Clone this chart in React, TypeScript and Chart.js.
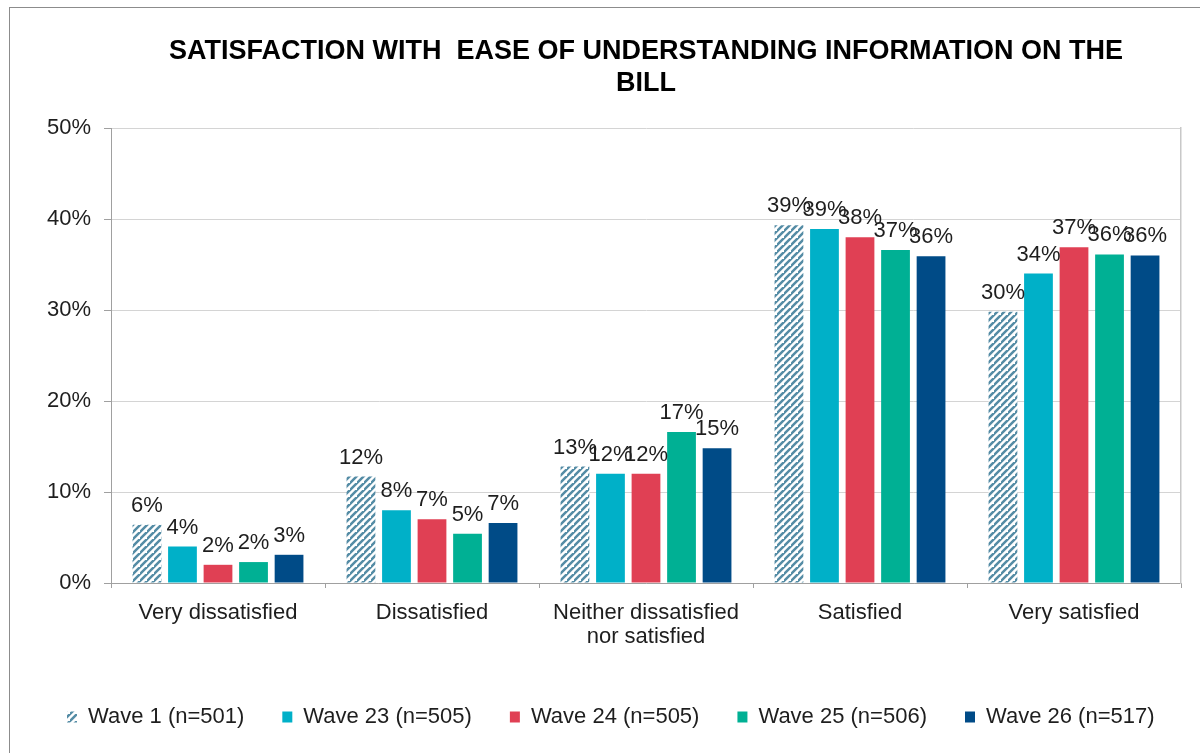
import React, { useEffect, useRef } from "react";
import { Chart, registerables } from "chart.js";

Chart.register(...registerables);

const categories: (string | string[])[] = [
  "Very dissatisfied",
  "Dissatisfied",
  ["Neither dissatisfied", "nor satisfied"],
  "Satisfied",
  "Very satisfied",
];

const wave1 = [6.4, 11.7, 12.8, 39.3, 29.8];
const wave23 = [4.0, 8.0, 12.0, 38.9, 34.0];
const wave24 = [2.0, 7.0, 12.0, 38.0, 36.9];
const wave25 = [2.3, 5.4, 16.6, 36.6, 36.1];
const wave26 = [3.1, 6.6, 14.8, 35.9, 36.0];

const seriesNames = [
  "Wave 1 (n=501)",
  "Wave 23 (n=505)",
  "Wave 24 (n=505)",
  "Wave 25 (n=506)",
  "Wave 26 (n=517)",
];

const titleLines = [
  "SATISFACTION WITH  EASE OF UNDERSTANDING INFORMATION ON THE",
  "BILL",
];

const yTicks = [0, 10, 20, 30, 40, 50];

const FONT = "'Liberation Sans', Arial, sans-serif";
const TEXT = "#1e1e1e";

function makeHatch(): CanvasPattern | string {
  const c = document.createElement("canvas");
  const s = 7;
  c.width = s;
  c.height = s;
  const ctx = c.getContext("2d");
  if (!ctx) return "#548ca5";
  ctx.fillStyle = "#ffffff";
  ctx.fillRect(0, 0, s, s);
  ctx.strokeStyle = "#548ca5";
  ctx.lineWidth = 2.5;
  ctx.beginPath();
  ctx.moveTo(-1, s + 1);
  ctx.lineTo(s + 1, -1);
  ctx.moveTo(-1 - s, s + 1);
  ctx.lineTo(1, -1);
  ctx.moveTo(s - 1, 2 * s + 1);
  ctx.lineTo(2 * s + 1, s - 1);
  ctx.stroke();
  const p = ctx.createPattern(c, "repeat");
  return p || "#548ca5";
}

const dataLabels = {
  id: "dataLabels",
  afterDatasetsDraw(chart: any) {
    const ctx = chart.ctx;
    ctx.save();
    ctx.font = `22px ${FONT}`;
    ctx.fillStyle = TEXT;
    ctx.textAlign = "center";
    ctx.textBaseline = "alphabetic";
    chart.data.datasets.forEach((ds: any, di: number) => {
      const meta = chart.getDatasetMeta(di);
      meta.data.forEach((el: any, i: number) => {
        const v = ds.data[i];
        ctx.fillText(`${Math.round(v)}%`, el.x, el.y - 13);
      });
    });
    ctx.restore();
  },
};

export default function App() {
  const ref = useRef<HTMLCanvasElement | null>(null);

  useEffect(() => {
    if (!ref.current) return;
    const hatch = makeHatch();
    const colors = [hatch, "#00b0c8", "#e04054", "#00b094", "#004b87"];
    const values = [wave1, wave23, wave24, wave25, wave26];
    const chart = new Chart(ref.current, {
      type: "bar",
      data: {
        labels: categories,
        datasets: values.map((d, i) => ({
          label: seriesNames[i],
          data: d,
          backgroundColor: colors[i] as any,
          borderWidth: 0,
          categoryPercentage: 0.83,
          barPercentage: 0.81,
        })),
      },
      options: {
        responsive: false,
        animation: false,
        devicePixelRatio: 1,
        layout: { padding: { left: 29, right: 0, top: 0, bottom: 15 } },
        plugins: {
          title: {
            display: true,
            text: titleLines,
            fullSize: false,
            color: "#000",
            font: { family: FONT, size: 27, weight: "bold", lineHeight: 32 / 27 },
            padding: { top: 36, bottom: 28 },
          },
          legend: {
            display: true,
            position: "bottom",
            align: "start",
            labels: {
              boxWidth: 10,
              boxHeight: 11,
              padding: 38,
              color: TEXT,
              font: { family: FONT, size: 22 },
            },
          },
          tooltip: { enabled: false },
        },
        scales: {
          x: {
            offset: true,
            grid: {
              display: true,
              offset: true,
              drawOnChartArea: false,
              drawTicks: true,
              tickLength: 5,
              tickColor: "#a0a0a0",
            },
            border: { display: true, color: "#a0a0a0", width: 1 },
            ticks: {
              color: TEXT,
              font: { family: FONT, size: 22, lineHeight: 24 / 22 },
              padding: 13,
              maxRotation: 0,
              autoSkip: false,
            },
            afterFit(scale: any) {
              scale.height = 85;
            },
          },
          y: {
            min: 0,
            max: 50,
            afterBuildTicks(scale: any) {
              scale.ticks = yTicks.map((v) => ({ value: v }));
            },
            grid: {
              color: "#d4d4d4",
              lineWidth: 1,
              drawTicks: true,
              tickLength: 7,
              tickColor: "#a0a0a0",
            },
            border: { display: true, color: "#a0a0a0", width: 1 },
            ticks: {
              color: TEXT,
              font: { family: FONT, size: 22 },
              padding: 13,
              callback: (v: any) => `${v}%`,
            },
            afterFit(scale: any) {
              scale.width = 82;
            },
          },
          yRight: {
            display: true,
            position: "right",
            min: 0,
            max: 50,
            grid: { display: false, drawOnChartArea: false, drawTicks: false },
            border: { display: true, color: "#c8c8c8", width: 1.5 },
            ticks: { display: false },
            afterFit(scale: any) {
              scale.width = 19;
            },
          },
        },
      },
      plugins: [dataLabels],
    });
    return () => chart.destroy();
  }, []);

  return (
    <div
      style={{
        position: "fixed",
        left: 0,
        top: 0,
        width: 1200,
        height: 753,
        background: "#fff",
        overflow: "hidden",
      }}
    >
      <div
        style={{
          position: "absolute",
          left: 9,
          top: 7,
          width: 1300,
          height: 900,
          borderLeft: "1px solid #8c8c8c",
          borderTop: "1px solid #8c8c8c",
        }}
      />
      <canvas
        ref={ref}
        width={1200}
        height={753}
        style={{ position: "absolute", left: 0, top: 0, width: 1200, height: 753 }}
      />
    </div>
  );
}
